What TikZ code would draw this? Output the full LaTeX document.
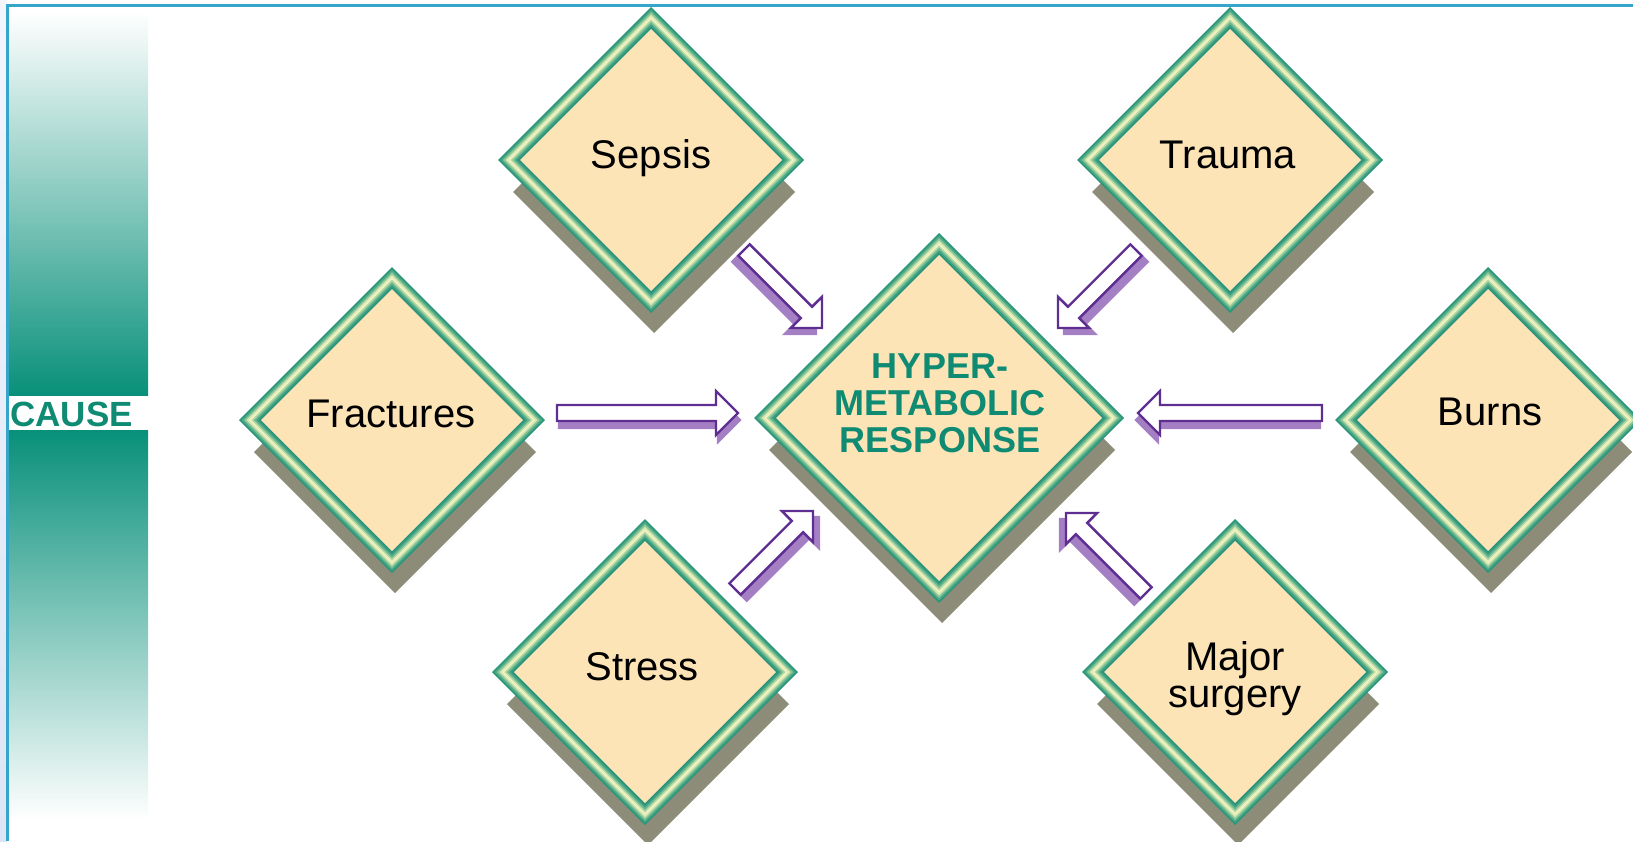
\documentclass[tikz,border=0pt]{standalone}
\usepackage{fontspec}
\setmainfont{Liberation Sans}
\usetikzlibrary{shapes.arrows,calc}
\definecolor{fr1}{HTML}{2A967A}
\definecolor{fr2}{HTML}{4FA886}
\definecolor{fr3}{HTML}{8CC79A}
\definecolor{fr4}{HTML}{D8E8B2}
\definecolor{fr5}{HTML}{F4F1C3}
\definecolor{fr6}{HTML}{B0D8A5}
\definecolor{fr7}{HTML}{6AB78F}
\definecolor{fr8}{HTML}{3A9F80}
\definecolor{fr9}{HTML}{27917A}
\definecolor{boxfill}{HTML}{FCE4B6}
\definecolor{dshadow}{HTML}{8C8C78}
\definecolor{causeteal}{HTML}{0E8B72}
\definecolor{barteal}{HTML}{08907A}
\definecolor{arrowpurple}{HTML}{5E2E91}
\definecolor{arrowshade}{HTML}{A57FC4}
\definecolor{frameblue}{HTML}{35A5C9}
\definecolor{stripA}{HTML}{F2F5FC}
\definecolor{stripB}{HTML}{DCE5F5}
\tikzset{
  lbl/.style={font=\fontsize{20}{18.5}\selectfont, text=black, align=center, anchor=base, inner sep=0pt},
  ctr/.style={font=\fontsize{18}{18.5}\selectfont\bfseries, text=causeteal, align=center, anchor=base, inner sep=0pt},
  arrowbase/.style={single arrow, single arrow head extend=7pt, inner xsep=0pt, inner ysep=3.4pt, anchor=tail, outer sep=0pt},
  arrowfg/.style={arrowbase, draw=arrowpurple, line width=1.2pt, fill=white},
  arrowbg/.style={arrowbase, fill=arrowshade, draw=arrowshade, line width=1.2pt},
}
\newcommand\causebox[3]{%
  \fill[dshadow] (#1+3-#3+12,#2+32) -- (#1+3,#2+32-#3+12) -- (#1+3+#3-12,#2+32) -- (#1+3,#2+32+#3-12) -- cycle;
  \foreach \d/\c in {0/fr1,2.5/fr2,5/fr3,7.5/fr4,10/fr5,12.5/fr6,15/fr7,17.5/fr8,20/fr9,22/boxfill}{
    \fill[\c] (#1-#3+\d,#2) -- (#1,#2-#3+\d) -- (#1+#3-\d,#2) -- (#1,#2+#3-\d) -- cycle;
  }%
}
\newcommand\hollowarrow[4]{%
  \path let \p1=($(#3)-(#2)$), \n1={atan2(\y1,\x1)}, \n2={veclen(\x1,\y1)} in
    node[arrowbg, minimum height=\n2, rotate=\n1] (#1s) at ($(#2)+#4$) {}
    node[arrowfg, minimum height=\n2, rotate=\n1] (#1) at (#2) {};
}
\begin{document}
\begin{tikzpicture}[x=0.5pt,y=-0.5pt]
\useasboundingbox (0,0) rectangle (1633,841);
% left strip and frame lines
\shade[top color=stripA, bottom color=stripB] (0,0) rectangle (7,841);
\shade[top color=white, bottom color=barteal] (8.5,12) rectangle (148,396);
\fill[white] (8.5,396) rectangle (148,430);
\shade[top color=barteal, bottom color=white] (8.5,430) rectangle (148,820);
\draw[frameblue, line width=1.25pt] (7.5,841) -- (7.5,5.5) -- (1633,5.5);
\node[font=\fontsize{17.5}{18}\selectfont\bfseries, text=causeteal, anchor=base west, inner sep=0pt] (cause) at (10,426) {CAUSE};
% diamonds
\causebox{651}{160}{153}
\causebox{1230}{160}{153}
\causebox{392}{420}{153}
\causebox{1488}{420}{153}
\causebox{645}{672}{153}
\causebox{1235}{672}{153}
\causebox{939}{418}{185}
% arrow end points
\coordinate (fA) at (557,413); \coordinate (fB) at (738,413);
\coordinate (bA) at (1322,413); \coordinate (bB) at (1138,413);
\coordinate (sA) at (744,250); \coordinate (sB) at (822,328);
\coordinate (tA) at (1136,250); \coordinate (tB) at (1058,328);
\coordinate (stA) at (735,589); \coordinate (stB) at (813,511);
\coordinate (mA) at (1146,593); \coordinate (mB) at (1066,513);
\hollowarrow{arrF}{fA}{fB}{(2,7)}
\hollowarrow{arrB}{bA}{bB}{(-2,7)}
\hollowarrow{arrS}{sA}{sB}{(-6,6)}
\hollowarrow{arrT}{tA}{tB}{(6,6)}
\hollowarrow{arrSt}{stA}{stB}{(6,6)}
\hollowarrow{arrM}{mA}{mB}{(-6,6)}
% labels
\node[lbl] (sepsis) at (651,168) {Sepsis};
\node[lbl] (trauma) at (1228,168) {Trauma};
\node[lbl] (fractures) at (391,427) {Fractures};
\node[lbl] (burns) at (1490,425) {Burns};
\node[lbl] (stress) at (642,680) {Stress};
\node[lbl] (surgery) at (1235,707) {Major\\surgery};
\node[ctr] (hyper) at (940,452) {HYPER-\\METABOLIC\\RESPONSE};
\end{tikzpicture}
\end{document}
